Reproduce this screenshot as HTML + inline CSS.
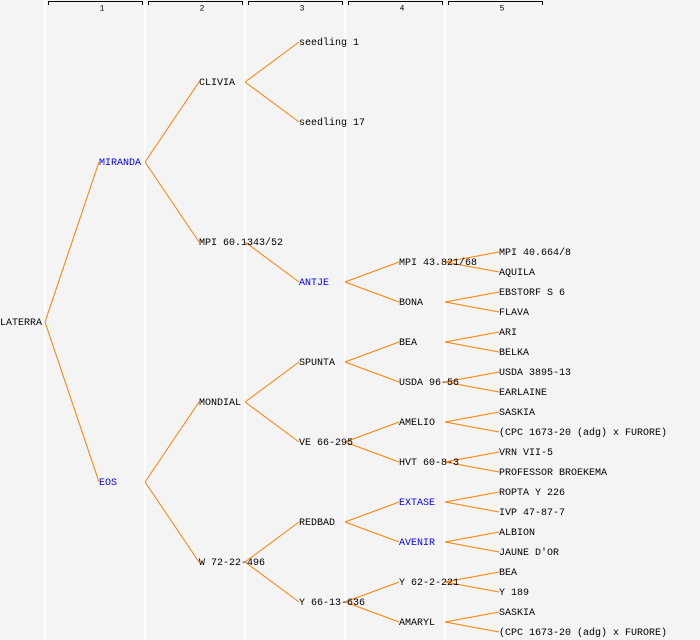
<!DOCTYPE html>
<html><head><meta charset="utf-8"><style>
html,body{margin:0;padding:0;background:#f4f4f4;}
svg{display:block}
text{font-family:"Liberation Mono","DejaVu Sans Mono",monospace;font-size:10px;fill:#000;dominant-baseline:central}
g.t text{transform:translateY(1.5px)}
.b{fill:#0000ff}
line.c{stroke:#ff8000;stroke-width:1}
</style></head><body>
<svg width="700" height="640" xmlns="http://www.w3.org/2000/svg">
<rect width="700" height="640" fill="#f4f4f4"/>
<g stroke="#ffffff" stroke-width="2">
<line x1="45" y1="0" x2="45" y2="640"/><line x1="145" y1="0" x2="145" y2="640"/><line x1="245" y1="0" x2="245" y2="640"/><line x1="345" y1="0" x2="345" y2="640"/><line x1="445" y1="0" x2="445" y2="640"/>
</g>
<g stroke="#000" stroke-width="1" fill="none">
<path d="M48.5 5V1.5H142.5V5"/><path d="M148.5 5V1.5H242.5V5"/><path d="M248.5 5V1.5H342.5V5"/><path d="M348.5 5V1.5H442.5V5"/><path d="M448.5 5V1.5H542.5V5"/>
</g>
<g text-anchor="middle">
<text x="102" y="9" style="font-size:8px">1</text><text x="202" y="9" style="font-size:8px">2</text><text x="302" y="9" style="font-size:8px">3</text><text x="402" y="9" style="font-size:8px">4</text><text x="502" y="9" style="font-size:8px">5</text>
</g>
<g>
<line class="c" x1="45" y1="322" x2="99" y2="162"/><line class="c" x1="45" y1="322" x2="99" y2="482"/>
<line class="c" x1="145" y1="162" x2="199" y2="82"/><line class="c" x1="145" y1="162" x2="199" y2="242"/>
<line class="c" x1="145" y1="482" x2="199" y2="402"/><line class="c" x1="145" y1="482" x2="199" y2="562"/>
<line class="c" x1="245" y1="82" x2="299" y2="42"/><line class="c" x1="245" y1="82" x2="299" y2="122"/>
<line class="c" x1="245" y1="242" x2="299" y2="282"/>
<line class="c" x1="245" y1="402" x2="299" y2="362"/><line class="c" x1="245" y1="402" x2="299" y2="442"/>
<line class="c" x1="245" y1="562" x2="299" y2="522"/><line class="c" x1="245" y1="562" x2="299" y2="602"/>
<line class="c" x1="345" y1="282" x2="399" y2="262"/><line class="c" x1="345" y1="282" x2="399" y2="302"/>
<line class="c" x1="345" y1="362" x2="399" y2="342"/><line class="c" x1="345" y1="362" x2="399" y2="382"/>
<line class="c" x1="345" y1="442" x2="399" y2="422"/><line class="c" x1="345" y1="442" x2="399" y2="462"/>
<line class="c" x1="345" y1="522" x2="399" y2="502"/><line class="c" x1="345" y1="522" x2="399" y2="542"/>
<line class="c" x1="345" y1="602" x2="399" y2="582"/><line class="c" x1="345" y1="602" x2="399" y2="622"/>
<line class="c" x1="445" y1="262" x2="499" y2="252"/><line class="c" x1="445" y1="262" x2="499" y2="272"/>
<line class="c" x1="445" y1="302" x2="499" y2="292"/><line class="c" x1="445" y1="302" x2="499" y2="312"/>
<line class="c" x1="445" y1="342" x2="499" y2="332"/><line class="c" x1="445" y1="342" x2="499" y2="352"/>
<line class="c" x1="445" y1="382" x2="499" y2="372"/><line class="c" x1="445" y1="382" x2="499" y2="392"/>
<line class="c" x1="445" y1="422" x2="499" y2="412"/><line class="c" x1="445" y1="422" x2="499" y2="432"/>
<line class="c" x1="445" y1="462" x2="499" y2="452"/><line class="c" x1="445" y1="462" x2="499" y2="472"/>
<line class="c" x1="445" y1="502" x2="499" y2="492"/><line class="c" x1="445" y1="502" x2="499" y2="512"/>
<line class="c" x1="445" y1="542" x2="499" y2="532"/><line class="c" x1="445" y1="542" x2="499" y2="552"/>
<line class="c" x1="445" y1="582" x2="499" y2="572"/><line class="c" x1="445" y1="582" x2="499" y2="592"/>
<line class="c" x1="445" y1="622" x2="499" y2="612"/><line class="c" x1="445" y1="622" x2="499" y2="632"/>
</g>
<g class="t">
<text x="0" y="322">LATERRA</text>
<text x="99" y="162" class="b">MIRANDA</text><text x="99" y="482" class="b">EOS</text>
<text x="199" y="82">CLIVIA</text><text x="199" y="242">MPI 60.1343/52</text><text x="199" y="402">MONDIAL</text><text x="199" y="562">W 72-22-496</text>
<text x="299" y="42">seedling 1</text><text x="299" y="122">seedling 17</text><text x="299" y="282" class="b">ANTJE</text><text x="299" y="362">SPUNTA</text><text x="299" y="442">VE 66-295</text><text x="299" y="522">REDBAD</text><text x="299" y="602">Y 66-13-636</text>
<text x="399" y="262">MPI 43.821/68</text><text x="399" y="302">BONA</text><text x="399" y="342">BEA</text><text x="399" y="382">USDA 96-56</text><text x="399" y="422">AMELIO</text><text x="399" y="462">HVT 60-8-3</text><text x="399" y="502" class="b">EXTASE</text><text x="399" y="542" class="b">AVENIR</text><text x="399" y="582">Y 62-2-221</text><text x="399" y="622">AMARYL</text>
<text x="499" y="252">MPI 40.664/8</text><text x="499" y="272">AQUILA</text>
<text x="499" y="292">EBSTORF S 6</text><text x="499" y="312">FLAVA</text>
<text x="499" y="332">ARI</text><text x="499" y="352">BELKA</text>
<text x="499" y="372">USDA 3895-13</text><text x="499" y="392">EARLAINE</text>
<text x="499" y="412">SASKIA</text><text x="499" y="432">(CPC 1673-20 (adg) x FURORE)</text>
<text x="499" y="452">VRN VII-5</text><text x="499" y="472">PROFESSOR BROEKEMA</text>
<text x="499" y="492">ROPTA Y 226</text><text x="499" y="512">IVP 47-87-7</text>
<text x="499" y="532">ALBION</text><text x="499" y="552">JAUNE D'OR</text>
<text x="499" y="572">BEA</text><text x="499" y="592">Y 189</text>
<text x="499" y="612">SASKIA</text><text x="499" y="632">(CPC 1673-20 (adg) x FURORE)</text>
</g>
</svg>
</body></html>
